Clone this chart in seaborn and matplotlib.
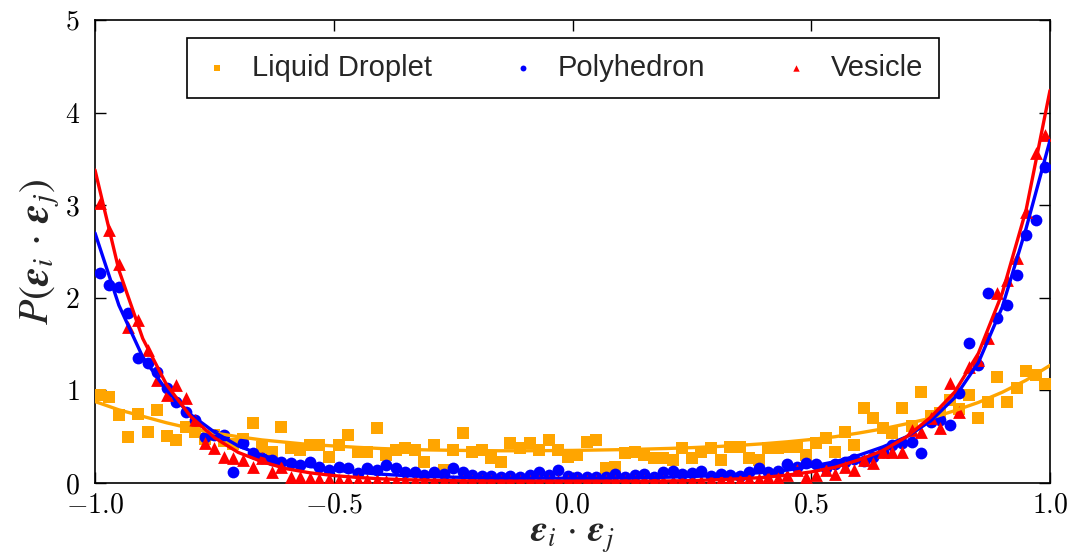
import numpy as np
import pandas as pd
import matplotlib
matplotlib.use("Agg")
import matplotlib.pyplot as plt
import seaborn as sns

# ---------------- data ----------------
x_points = np.round(np.arange(-0.99, 1.0, 0.02), 2)

droplet = [0.95, 0.93, 0.73, 0.50, 0.75, 0.55, 0.79, 0.51, 0.46, 0.60,
           0.55, 0.48, 0.52, 0.45, 0.42, 0.47, 0.65, 0.39, 0.33, 0.60,
           0.38, 0.36, 0.41, 0.41, 0.28, 0.41, 0.52, 0.33, 0.33, 0.59,
           0.30, 0.36, 0.38, 0.36, 0.23, 0.41, 0.14, 0.36, 0.54, 0.33,
           0.36, 0.27, 0.23, 0.43, 0.38, 0.43, 0.36, 0.46, 0.36, 0.28,
           0.30, 0.44, 0.46, 0.16, 0.17, 0.32, 0.33, 0.30, 0.27, 0.27,
           0.25, 0.38, 0.27, 0.33, 0.38, 0.25, 0.39, 0.39, 0.27, 0.25,
           0.38, 0.38, 0.39, 0.39, 0.30, 0.43, 0.49, 0.33, 0.55, 0.41,
           0.81, 0.70, 0.59, 0.54, 0.81, 0.62, 0.98, 0.72, 0.76, 0.90,
           0.80, 0.95, 0.70, 0.87, 1.14, 0.87, 1.03, 1.21, 1.17, 1.07]

polyhedron = [2.27, 2.14, 2.12, 1.84, 1.35, 1.30, 1.20, 1.03, 0.88, 0.77,
              0.68, 0.50, 0.52, 0.52, 0.12, 0.43, 0.32, 0.27, 0.25, 0.23,
              0.22, 0.19, 0.23, 0.17, 0.14, 0.17, 0.16, 0.11, 0.16, 0.14,
              0.19, 0.16, 0.12, 0.12, 0.09, 0.12, 0.10, 0.16, 0.12, 0.09,
              0.08, 0.08, 0.07, 0.08, 0.07, 0.09, 0.12, 0.09, 0.14, 0.08,
              0.06, 0.07, 0.06, 0.07, 0.10, 0.07, 0.09, 0.10, 0.07, 0.12,
              0.13, 0.10, 0.11, 0.13, 0.08, 0.10, 0.09, 0.08, 0.12, 0.16,
              0.12, 0.13, 0.21, 0.17, 0.22, 0.20, 0.16, 0.21, 0.23, 0.26,
              0.24, 0.28, 0.33, 0.41, 0.43, 0.44, 0.32, 0.66, 0.68, 0.63,
              0.97, 1.51, 1.27, 2.05, 1.78, 1.92, 2.25, 2.68, 2.84, 3.41]

vesicle = [3.02, 2.73, 2.37, 1.69, 1.76, 1.44, 1.11, 0.95, 1.06, 0.92,
           0.68, 0.43, 0.38, 0.28, 0.27, 0.25, 0.17, 0.27, 0.12, 0.17,
           0.07, 0.06, 0.05, 0.04, 0.04, 0.03, 0.03, 0.03, 0.03, 0.03,
           0.02, 0.02, 0.02, 0.02, 0.02, 0.02, 0.02, 0.02, 0.02, 0.02,
           0.02, 0.02, 0.02, 0.02, 0.02, 0.02, 0.02, 0.02, 0.02, 0.02,
           0.02, 0.02, 0.02, 0.02, 0.02, 0.02, 0.02, 0.02, 0.02, 0.02,
           0.02, 0.02, 0.02, 0.02, 0.03, 0.03, 0.03, 0.03, 0.04, 0.04,
           0.06, 0.05, 0.09, 0.14, 0.07, 0.09, 0.14, 0.10, 0.17, 0.14,
           0.25, 0.22, 0.33, 0.33, 0.33, 0.57, 0.55, 0.70, 0.59, 1.08,
           0.77, 1.25, 1.33, 1.57, 2.05, 2.19, 2.43, 2.93, 3.56, 3.76]

# fitted curves, read at 0.05 steps
x_fit = np.round(np.linspace(-1.0, 1.0, 41), 2)
droplet_fit = [0.88, 0.79, 0.72, 0.65, 0.59, 0.54, 0.50, 0.465, 0.44, 0.415,
               0.40, 0.385, 0.372, 0.363, 0.357, 0.353, 0.35, 0.348, 0.348, 0.35,
               0.352, 0.356, 0.36, 0.366, 0.373, 0.382, 0.393, 0.407, 0.424, 0.445,
               0.47, 0.50, 0.54, 0.585, 0.64, 0.70, 0.78, 0.87, 0.98, 1.11, 1.27]
polyhedron_fit = [2.70, 1.92, 1.36, 1.00, 0.74, 0.55, 0.40, 0.30, 0.23, 0.18,
                  0.14, 0.115, 0.095, 0.08, 0.07, 0.063, 0.058, 0.055, 0.053, 0.052,
                  0.052, 0.053, 0.055, 0.058, 0.063, 0.07, 0.08, 0.095, 0.115, 0.14,
                  0.18, 0.23, 0.30, 0.39, 0.50, 0.67, 0.92, 1.30, 1.90, 2.75, 3.70]
vesicle_fit = [3.38, 2.30, 1.56, 1.06, 0.72, 0.49, 0.33, 0.23, 0.155, 0.11,
               0.08, 0.06, 0.045, 0.035, 0.03, 0.025, 0.022, 0.02, 0.02, 0.02,
               0.02, 0.02, 0.02, 0.02, 0.022, 0.026, 0.035, 0.045, 0.06, 0.085,
               0.12, 0.17, 0.25, 0.35, 0.50, 0.71, 0.98, 1.40, 2.05, 2.95, 4.24]

series_names = ["Liquid Droplet", "Polyhedron", "Vesicle"]
xtick_values = [-1.0, -0.5, 0.0, 0.5, 1.0]
xtick_labels = [r"$-1.0$", r"$-0.5$", r"$0.0$", r"$0.5$", r"$1.0$"]
ytick_values = [0, 1, 2, 3, 4, 5]
ytick_labels = [r"$0$", r"$1$", r"$2$", r"$3$", r"$4$", r"$5$"]

# ---------------- style ----------------
sns.set_style("ticks")
plt.rcParams["font.family"] = ["Liberation Sans", "DejaVu Sans"]
plt.rcParams["mathtext.fontset"] = "cm"

colors = ["#FFA500", "#0000FF", "#FF0000"]
markers = ["s", "o", "^"]

fig = plt.figure(figsize=(10.74, 5.58), dpi=100)
ax = fig.add_axes([95 / 1074, 1 - 483 / 558, 955 / 1074, 463 / 558])

pts = [droplet, polyhedron, vesicle]
fits = [droplet_fit, polyhedron_fit, vesicle_fit]

for name, yv, c, m in zip(series_names, pts, colors, markers):
    df = pd.DataFrame({"x": x_points, "y": yv})
    sns.scatterplot(data=df, x="x", y="y", ax=ax, color=c, marker=m,
                    s=85 if m == "^" else 72, linewidth=0, label=name, zorder=3)

for yf, c in zip(fits, colors):
    dff = pd.DataFrame({"x": x_fit, "y": yf})
    sns.lineplot(data=dff, x="x", y="y", ax=ax, color=c, linewidth=2.4,
                 label="_nolegend_", zorder=4)

ax.set_xlim(-1, 1)
ax.set_ylim(0, 5)
ax.set_xticks(xtick_values)
ax.set_xticklabels(xtick_labels)
ax.set_yticks(ytick_values)
ax.set_yticklabels(ytick_labels)
ax.tick_params(direction="in", top=True, right=True, length=8, width=1,
               labelsize=20, colors="black")
ax.tick_params(axis="x", pad=7)
ax.tick_params(axis="y", pad=11)
for sp in ax.spines.values():
    sp.set_linewidth(1.2)
    sp.set_color("black")

ax.set_xlabel(r"$\mathbfit{\varepsilon}_i\,\cdot\,\mathbfit{\varepsilon}_j$",
              fontsize=27, labelpad=0, math_fontfamily="stix")
ax.set_ylabel(r"$P(\mathbfit{\varepsilon}_i\,\cdot\,\mathbfit{\varepsilon}_j)$",
              fontsize=30, labelpad=2, math_fontfamily="stix")

handles, labels = ax.get_legend_handles_labels()
leg = ax.legend(handles[:3], labels[:3], loc="upper center",
                bbox_to_anchor=(0.49, 0.961), borderaxespad=0, ncol=3,
                fontsize=21, markerscale=0.5, scatterpoints=1,
                handlelength=1.0, handletextpad=0.7, columnspacing=2.6,
                frameon=True, fancybox=False, edgecolor="black",
                framealpha=1, borderpad=0.55)
leg.get_frame().set_linewidth(1.2)

fig.savefig("out.png", dpi=100)
